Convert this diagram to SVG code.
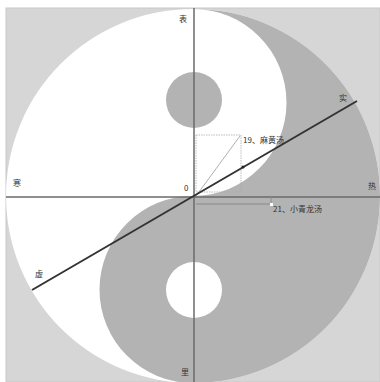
<svg xmlns="http://www.w3.org/2000/svg" width="380" height="382" viewBox="0 0 380 382">
<style>
.t{font-family:"Noto Sans CJK SC","Liberation Serif",serif;font-size:8px;fill:#333}
.ax{stroke:#6a6a6a;stroke-width:1.5;fill:none}
.thin{stroke:#999;stroke-width:0.8;fill:none}
</style>
<rect x="0" y="0" width="380" height="382" fill="#fff"/>
<rect x="6" y="8" width="374" height="374" fill="#d6d6d6" stroke="#c8c8c8"/>
<g id="taiji">
<circle cx="193" cy="196" r="187" fill="#fff"/>
<path d="M193 9 A187 187 0 0 1 193 383 A93.5 93.5 0 0 1 193 196 A93.5 93.5 0 0 0 193 9 Z" fill="#b3b3b3"/>
<circle cx="194" cy="100" r="28" fill="#b3b3b3"/>
<circle cx="194" cy="290" r="28" fill="#fff"/>
</g>
<g id="connectors">
<line class="ax" x1="194" y1="8" x2="194" y2="382"/>
<line class="ax" x1="6" y1="197" x2="380" y2="197"/>
<rect x="196" y="135" width="45" height="57" fill="none" stroke="#aaa" stroke-width="0.8" stroke-dasharray="1.5,1"/>
<line class="thin" x1="196" y1="196" x2="240" y2="136"/>
<line x1="32" y1="290" x2="357" y2="101" stroke="#333" stroke-width="2"/>
<circle cx="243" cy="167" r="1.5" fill="#222"/>
<line x1="196" y1="204" x2="272" y2="204" stroke="#888" stroke-width="1"/>
<line x1="271" y1="196" x2="271" y2="204" stroke="#888" stroke-width="0.8"/>
<rect x="270" y="203" width="3" height="3" fill="#fff"/>
</g>
<g id="labels">
<text class="t" x="179" y="22">表</text>
<text class="t" x="13" y="186">寒</text>
<text class="t" x="368" y="189">热</text>
<text class="t" x="181" y="375">里</text>
<text class="t" x="339" y="101">实</text>
<text class="t" x="35" y="277">虚</text>
<text class="t" x="184" y="191">0</text>
<text class="t" x="243" y="143">19、麻黄汤</text>
<text class="t" x="273" y="212">21、小青龙汤</text>
</g>
</svg>
